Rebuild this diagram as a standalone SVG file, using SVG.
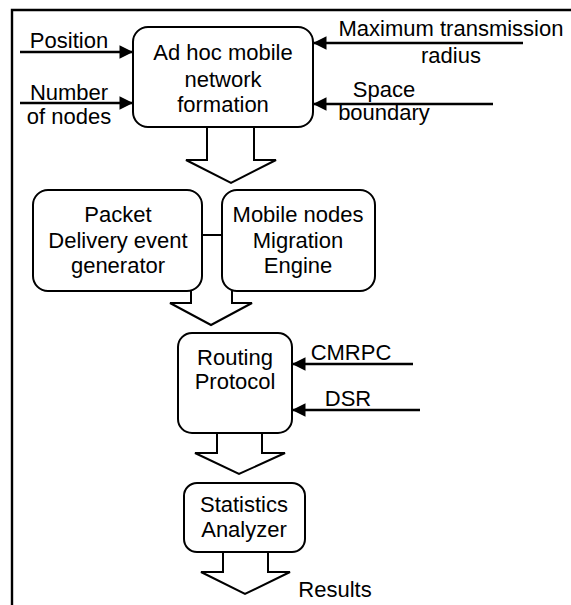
<svg xmlns="http://www.w3.org/2000/svg" width="571" height="605" viewBox="0 0 571 605">
<defs>
<marker id="ah" viewBox="0 0 10 10" refX="10" refY="5" markerWidth="5.8" markerHeight="5" markerUnits="strokeWidth" orient="auto">
<path d="M0,0 L10,5 L0,10 z" fill="#000"/>
</marker>
<style>
text{font-family:"Liberation Sans",Arial,sans-serif;font-size:22px;fill:#000;text-anchor:middle}
.box{fill:#fff;stroke:#000;stroke-width:2}
.in{stroke:#000;stroke-width:2.7;fill:none;marker-end:url(#ah)}
.big{fill:#fff;stroke:#000;stroke-width:2;stroke-linejoin:miter}
.frame{stroke:#000;stroke-width:2.4;fill:none}
</style>
</defs>
<rect width="571" height="605" fill="#fff"/>
<path class="frame" d="M12,605 L12,10 L571,10"/>

<g id="connectors">
<line class="in" x1="20" y1="52" x2="133" y2="52"/>
<line class="in" x1="20" y1="103" x2="133" y2="103"/>
<line class="in" x1="523" y1="43" x2="313" y2="43"/>
<line class="in" x1="493" y1="104" x2="313" y2="104"/>
<line class="in" x1="413" y1="364" x2="292" y2="364"/>
<line class="in" x1="420" y1="410" x2="292" y2="410"/>
<line x1="202" y1="235" x2="222" y2="235" stroke="#000" stroke-width="2"/>
<path class="big" d="M207,127 L207,160 L186,160 L231,183 L276,160 L254,160 L254,127"/>
<path class="big" d="M191,291 L191,303 L170,303 L211,325 L252,303 L232,303 L232,291"/>
<path class="big" d="M217,433 L217,453 L195,453 L239,474 L285,453 L262,453 L262,433"/>
<path class="big" d="M223,552 L223,572 L201,572 L245,594 L290,572 L268,572 L268,552"/>
</g>

<g id="labels">
<text x="69" y="48">Position</text>
<text x="69" y="100">Number</text>
<text x="69" y="124">of nodes</text>
<text x="451" y="36">Maximum transmission</text>
<text x="451" y="63">radius</text>
<text x="384" y="97">Space</text>
<text x="384" y="120">boundary</text>
<text x="351" y="360">CMRPC</text>
<text x="348" y="406">DSR</text>
<text x="335" y="597">Results</text>
</g>

<g id="adhoc">
<rect class="box" x="133" y="27" width="180" height="100" rx="15"/>
<text x="223" y="60">Ad hoc mobile</text>
<text x="223" y="87">network</text>
<text x="223" y="112">formation</text>
</g>

<g id="packet">
<rect class="box" x="33" y="190" width="169" height="101" rx="15"/>
<text x="118" y="222">Packet</text>
<text x="118" y="248">Delivery event</text>
<text x="118" y="273">generator</text>
</g>

<g id="migration">
<rect class="box" x="222" y="190" width="153" height="101" rx="15"/>
<text x="298" y="222">Mobile nodes</text>
<text x="298" y="248">Migration</text>
<text x="298" y="273">Engine</text>
</g>

<g id="routing">
<rect class="box" x="178" y="333" width="114" height="100" rx="14"/>
<text x="235" y="365">Routing</text>
<text x="235" y="389">Protocol</text>
</g>

<g id="statistics">
<rect class="box" x="184" y="483" width="121" height="69" rx="13"/>
<text x="244" y="512">Statistics</text>
<text x="244" y="537">Analyzer</text>
</g>
</svg>
